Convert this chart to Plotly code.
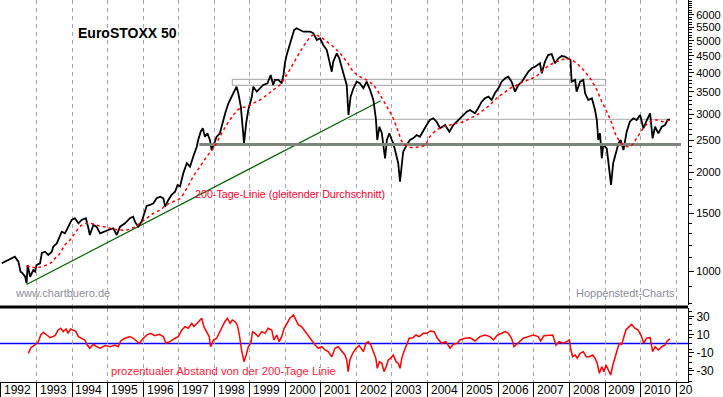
import plotly.graph_objects as go

# ---------------- data ----------------
price_t = [1992.02, 1992.20, 1992.39, 1992.49, 1992.55, 1992.61, 1992.68, 1992.72, 1992.75, 1992.82,
           1992.91, 1992.96, 1993.00, 1993.10, 1993.15, 1993.24, 1993.33, 1993.43, 1993.47, 1993.57,
           1993.64, 1993.71, 1993.80, 1993.89, 1993.99, 1994.08, 1994.18, 1994.27, 1994.39, 1994.46,
           1994.50, 1994.60, 1994.69, 1994.79, 1994.88, 1995.02, 1995.16, 1995.26, 1995.35, 1995.49,
           1995.63, 1995.72, 1995.77, 1995.86, 1995.96, 1996.05, 1996.10, 1996.19, 1996.29, 1996.38,
           1996.48, 1996.57, 1996.62, 1996.71, 1996.80, 1996.90, 1996.97, 1997.04, 1997.13, 1997.23,
           1997.32, 1997.41, 1997.51, 1997.55, 1997.62, 1997.68, 1997.74, 1997.81, 1997.88, 1997.93,
           1997.98, 1998.07, 1998.16, 1998.24, 1998.31, 1998.40, 1998.49, 1998.59, 1998.63, 1998.68,
           1998.75, 1998.80, 1998.84, 1998.90, 1998.96, 1999.06, 1999.10, 1999.20, 1999.29, 1999.38,
           1999.50, 1999.59, 1999.66, 1999.71, 1999.81, 1999.90, 1999.95, 1999.99, 2000.04, 2000.11,
           2000.18, 2000.25, 2000.32, 2000.42, 2000.51, 2000.60, 2000.70, 2000.79, 2000.89, 2000.98,
           2001.07, 2001.17, 2001.26, 2001.31, 2001.35, 2001.45, 2001.52, 2001.59, 2001.65, 2001.73,
           2001.78, 2001.84, 2001.92, 2002.01, 2002.10, 2002.20, 2002.29, 2002.39, 2002.48, 2002.55,
           2002.59, 2002.65, 2002.72, 2002.76, 2002.81, 2002.86, 2002.93, 2003.00, 2003.04, 2003.09,
           2003.14, 2003.18, 2003.23, 2003.28, 2003.32, 2003.42, 2003.51, 2003.60, 2003.70, 2003.79,
           2003.89, 2003.98, 2004.07, 2004.17, 2004.26, 2004.36, 2004.50, 2004.62, 2004.73, 2004.87,
           2004.97, 2005.11, 2005.20, 2005.34, 2005.43, 2005.53, 2005.62, 2005.72, 2005.81, 2005.90,
           2006.00, 2006.09, 2006.19, 2006.28, 2006.37, 2006.47, 2006.56, 2006.66, 2006.75, 2006.84,
           2006.94, 2007.03, 2007.17, 2007.22, 2007.31, 2007.40, 2007.50, 2007.59, 2007.69, 2007.78,
           2007.87, 2007.97, 2008.03, 2008.06, 2008.16, 2008.20, 2008.30, 2008.39, 2008.44, 2008.53,
           2008.63, 2008.72, 2008.77, 2008.81, 2008.86, 2008.91, 2008.95, 2009.05, 2009.12, 2009.17,
           2009.23, 2009.31, 2009.38, 2009.44, 2009.52, 2009.61, 2009.70, 2009.80, 2009.89, 2009.99,
           2010.08, 2010.18, 2010.27, 2010.34, 2010.41, 2010.50, 2010.60, 2010.69, 2010.76, 2010.83]
price_v = [1059, 1083, 1109, 1071, 999, 987, 964, 921, 1046, 964,
           1010, 999, 1046, 1059, 1138, 1148, 1122, 1148, 1189, 1217,
           1275, 1320, 1305, 1367, 1433, 1450, 1400, 1433, 1450, 1352,
           1290, 1383, 1367, 1305, 1320, 1336, 1352, 1290, 1367, 1400,
           1450, 1466, 1416, 1367, 1416, 1518, 1580, 1591, 1610, 1667,
           1686, 1667, 1572, 1647, 1706, 1745, 1829, 1810, 1985, 2128,
           2078, 2228, 2389, 2503, 2652, 2716, 2561, 2623, 2503, 2334,
           2417, 2561, 2623, 2844, 3016, 3234, 3386, 3548, 3631, 3467,
           3158, 2746, 2446, 2812, 3086, 3386, 3631, 3506, 3590, 3674,
           3718, 3940, 3674, 3805, 3805, 3718, 3940, 4275, 4529, 4800,
           5146, 5392, 5457, 5392, 5329, 5329, 5329, 5270, 5029, 5089,
           4857, 4690, 4275, 4031, 4323, 4583, 4426, 4128, 3940, 3674,
           2980, 3386, 3590, 3760, 3718, 3590, 3760, 3548, 3309, 2912,
           2503, 2746, 2623, 2417, 2203, 2503, 2623, 2503, 2446, 2334,
           2203, 2128, 1872, 2128, 2307, 2417, 2503, 2533, 2592, 2561,
           2684, 2779, 2878, 2912, 2844, 2716, 2779, 2652, 2779, 2878,
           2945, 3049, 3086, 3016, 3123, 3270, 3349, 3386, 3309, 3467,
           3590, 3760, 3850, 3893, 3760, 3506, 3674, 3760, 3893, 4031,
           4128, 4174, 4275, 3987, 4323, 4529, 4561, 4275, 4426, 4498,
           4476, 4426, 4374, 3760, 3805, 3506, 3760, 3805, 3467, 3309,
           3349, 3086, 2878, 2503, 2623, 2203, 2417, 2362, 1985, 1829,
           2128, 2307, 2446, 2503, 2334, 2652, 2844, 2912, 2878, 2980,
           2716, 2878, 3016, 2533, 2746, 2623, 2746, 2779, 2878, 2892]

ma_t = [1992.72, 1993.00, 1993.38, 1993.52, 1993.66, 1993.80, 1993.94, 1994.08, 1994.22, 1994.41,
        1994.60, 1994.79, 1994.98, 1995.16, 1995.35, 1995.54, 1995.72, 1995.91, 1996.10, 1996.29,
        1996.48, 1996.66, 1996.85, 1997.04, 1997.23, 1997.41, 1997.60, 1997.79, 1997.98, 1998.16,
        1998.35, 1998.54, 1998.73, 1998.92, 1999.10, 1999.29, 1999.48, 1999.66, 1999.85, 2000.04,
        2000.23, 2000.42, 2000.60, 2000.79, 2000.98, 2001.17, 2001.35, 2001.54, 2001.73, 2001.92,
        2002.10, 2002.29, 2002.48, 2002.67, 2002.86, 2003.04, 2003.18, 2003.32, 2003.51, 2003.70,
        2003.93, 2004.07, 2004.26, 2004.45, 2004.64, 2004.83, 2005.01, 2005.20, 2005.39, 2005.58,
        2005.76, 2005.95, 2006.14, 2006.33, 2006.52, 2006.70, 2006.89, 2007.08, 2007.26, 2007.45,
        2007.64, 2007.83, 2008.02, 2008.20, 2008.39, 2008.58, 2008.77, 2008.91, 2009.05, 2009.19,
        2009.33, 2009.52, 2009.70, 2009.89, 2010.08, 2010.27, 2010.46, 2010.64, 2010.83]
ma_v = [1041, 1027, 1059, 1096, 1135, 1203, 1246, 1305, 1367, 1400,
        1393, 1373, 1361, 1345, 1336, 1336, 1357, 1400, 1450, 1501,
        1536, 1591, 1628, 1667, 1787, 1938, 2078, 2228, 2362, 2561,
        2779, 2980, 3123, 3158, 3234, 3309, 3427, 3548, 3674, 3940,
        4275, 4634, 4970, 5209, 5146, 4970, 4800, 4583, 4323, 4031,
        3893, 3805, 3674, 3427, 3158, 2912, 2652, 2446, 2379, 2379,
        2417, 2561, 2684, 2746, 2779, 2812, 2844, 2912, 2980, 3086,
        3195, 3349, 3467, 3590, 3674, 3760, 3823, 3915, 4079, 4224,
        4323, 4395, 4395, 4275, 4079, 3850, 3548, 3270, 3049, 2812,
        2561, 2417, 2389, 2533, 2716, 2844, 2878, 2844, 2878]

osc_t = [1992.77, 1992.84, 1992.96, 1993.05, 1993.12, 1993.19, 1993.29, 1993.38, 1993.52, 1993.61,
         1993.68, 1993.75, 1993.83, 1993.89, 1993.96, 1994.03, 1994.11, 1994.18, 1994.27, 1994.36,
         1994.43, 1994.50, 1994.60, 1994.69, 1994.79, 1994.93, 1995.07, 1995.21, 1995.30, 1995.37,
         1995.49, 1995.63, 1995.72, 1995.82, 1995.89, 1996.01, 1996.10, 1996.21, 1996.33, 1996.46,
         1996.57, 1996.64, 1996.76, 1996.90, 1996.99, 1997.09, 1997.18, 1997.27, 1997.37, 1997.43,
         1997.52, 1997.60, 1997.65, 1997.71, 1997.79, 1997.86, 1997.90, 1997.98, 1998.07, 1998.16,
         1998.24, 1998.30, 1998.37, 1998.45, 1998.51, 1998.59, 1998.65, 1998.71, 1998.77, 1998.84,
         1998.90, 1998.96, 1999.03, 1999.08, 1999.15, 1999.24, 1999.34, 1999.43, 1999.52, 1999.62,
         1999.68, 1999.76, 1999.83, 1999.90, 1999.97, 2000.04, 2000.13, 2000.23, 2000.30, 2000.37,
         2000.46, 2000.56, 2000.65, 2000.74, 2000.84, 2000.93, 2001.03, 2001.12, 2001.21, 2001.31,
         2001.40, 2001.49, 2001.59, 2001.68, 2001.73, 2001.77, 2001.82, 2001.90, 2001.99, 2002.08,
         2002.20, 2002.27, 2002.34, 2002.41, 2002.48, 2002.55, 2002.59, 2002.65, 2002.72, 2002.78,
         2002.84, 2002.90, 2002.97, 2003.04, 2003.12, 2003.18, 2003.23, 2003.28, 2003.34, 2003.42,
         2003.49, 2003.59, 2003.68, 2003.77, 2003.89, 2003.98, 2004.09, 2004.19, 2004.28, 2004.40,
         2004.52, 2004.64, 2004.73, 2004.84, 2004.92, 2005.06, 2005.20, 2005.34, 2005.48, 2005.62,
         2005.76, 2005.86, 2005.97, 2006.09, 2006.19, 2006.28, 2006.37, 2006.44, 2006.51, 2006.61,
         2006.70, 2006.84, 2006.98, 2007.12, 2007.19, 2007.28, 2007.40, 2007.53, 2007.62, 2007.71,
         2007.83, 2007.92, 2008.00, 2008.03, 2008.09, 2008.16, 2008.22, 2008.30, 2008.39, 2008.47,
         2008.56, 2008.65, 2008.72, 2008.78, 2008.84, 2008.91, 2008.97, 2009.03, 2009.09, 2009.16,
         2009.22, 2009.28, 2009.35, 2009.40, 2009.47, 2009.52, 2009.59, 2009.68, 2009.75, 2009.84,
         2009.93, 2010.03, 2010.09, 2010.17, 2010.27, 2010.34, 2010.41, 2010.50, 2010.60, 2010.69,
         2010.75, 2010.83]
osc_v = [-11, -4.7, -1.7, 2, 9.4, 12.4, 9.4, 6.4, 8.7, 15,
         16.9, 13.1, 16.1, 11.3, 16.1, 15, 13.1, 7.6, 5.8, 3.9,
         -1.7, -5.3, -0.9, -3.6, -5.3, -2.4, -3.6, -1.7, -3.6, 2.8,
         5.8, 7.6, 5.8, 2.8, 0.2, 5.8, 9.4, 11.3, 8.7, 10.2,
         7.6, 0.2, 2, 5.8, 7.6, 15, 18.7, 16.9, 22.4, 18.7,
         22.4, 26.1, 28, 18.7, 13.1, 7.6, -3.6, 3.9, 5.8, 13.1,
         18.7, 24.2, 28, 22.4, 26.1, 24.2, 20.6, 9.4, -7.2, -20.2,
         -12.8, -3.6, 0.2, 13.1, 11.3, 7.6, 13.1, 11.3, 16.9, 15,
         3.9, 9.4, 2, 7.6, 16.9, 22.4, 28, 31.7, 26.1, 20.6,
         18.7, 13.1, 7.6, 3.9, -1.7, -5.3, -3.6, -7.2, -9.1, -14.7,
         -5.3, -3.6, -9.1, -12.8, -18.3, -31.3, -18.3, -10.9, -5.3, -2.4,
         -9.1, 0.2, 2, -1.7, -9.1, -16.4, -27.6, -20.2, -22, -31.3,
         -25.8, -18.3, -16.4, -12.8, -20.2, -22, -27.6, -16.4, -9.1, -1.7,
         5.8, 6.4, 9.4, 7.6, 11.3, 11.3, 13.9, 13.1, 5.8, 0.2,
         2, -5.3, -0.9, 0.2, 3.9, 5.8, 6.4, 2.8, 7.6, 9.4,
         7.6, 3.9, 9.4, 11.3, 13.1, 11.3, 5.8, -3.6, -0.9, 2,
         5.8, 7.6, 9.4, 7.6, 2.8, 8.7, 9.4, 9.4, -1.7, 2,
         0.2, 2, 3.9, -5.3, -14.7, -12.8, -16.4, -10.9, -9.1, -14.7,
         -14.7, -12.8, -16.4, -22, -33.1, -25.8, -31.3, -23.9, -29.4, -35,
         -23.9, -16.4, -5.3, 0.2, -0.9, 5.8, 15, 18.7, 21.3, 16.9,
         15, 7.6, 0.2, 5.8, 6.4, -9.1, -3.6, -7.2, -3.6, -1.7,
         2.8, 5]

trend_t = [1992.72, 2002.69]
trend_v = [913, 3293]
support_t = [1997.58, 2011.14]
support_v = [2426, 2426]
resist_t = [2001.77, 2010.83]
resist_v = [2892, 2892]
box_t = [1998.51, 2009.02]
box_v = [3666, 3823]

years = list(range(1992, 2012))
year_labels = [str(y) for y in range(1992, 2011)] + ["20"]
price_ticks = [1000, 1500, 2000, 2500, 3000, 3500, 4000, 4500, 5000, 5500, 6000]
price_minor = list(range(800, 1000, 100)) + list(range(1100, 6700, 100))
osc_ticks = [-30, -10, 10, 30]
osc_minor = [-42, -35, -28, -21, -14, -7, 0, 7, 14, 21, 28, 35]

FONT = "Liberation Sans, Arial, sans-serif"
GRID = "#a8a8a8"

fig = go.Figure()

# box (resistance zone)
fig.add_trace(go.Scatter(
    x=[box_t[0], box_t[1], box_t[1], box_t[0], box_t[0]],
    y=[box_v[0], box_v[0], box_v[1], box_v[1], box_v[0]],
    mode="lines", line=dict(color="#a0a0a0", width=1), xaxis="x", yaxis="y"))
fig.add_trace(go.Scatter(x=resist_t, y=resist_v, mode="lines",
                         line=dict(color="#a8a8a8", width=1), xaxis="x", yaxis="y"))
fig.add_trace(go.Scatter(x=trend_t, y=trend_v, mode="lines",
                         line=dict(color="#006400", width=1.2), xaxis="x", yaxis="y"))
fig.add_trace(go.Scatter(x=price_t, y=price_v, mode="lines",
                         line=dict(color="black", width=1.8), xaxis="x", yaxis="y"))
fig.add_trace(go.Scatter(x=support_t, y=support_v, mode="lines",
                         line=dict(color="#7b857b", width=3), xaxis="x", yaxis="y"))
fig.add_trace(go.Scatter(x=ma_t, y=ma_v, mode="lines", line_shape="spline",
                         line=dict(color="#ff0000", width=1.5, dash="3px,3px"),
                         xaxis="x", yaxis="y"))
fig.add_trace(go.Scatter(x=osc_t, y=osc_v, mode="lines",
                         line=dict(color="#ff0000", width=1.5), xaxis="x2", yaxis="y2"))

xr = [1991.972, 2011.336]

fig.update_layout(
    width=723, height=397,
    margin=dict(l=0, r=35, t=0, b=15),
    paper_bgcolor="white", plot_bgcolor="white",
    showlegend=False,
    font=dict(family=FONT, size=12, color="black"),
    xaxis=dict(domain=[0, 1], range=xr, anchor="y", tickmode="array", tickvals=years,
               showticklabels=False, ticks="", showgrid=True, gridcolor=GRID,
               griddash="4px,4px", gridwidth=1, zeroline=False, showline=False),
    xaxis2=dict(domain=[0, 1], range=xr, anchor="y2", matches="x", tickmode="array",
                tickvals=years, showticklabels=False, ticks="outside", ticklen=15,
                tickcolor="black", tickwidth=1, showgrid=True, gridcolor=GRID,
                griddash="4px,4px", gridwidth=1, zeroline=False, showline=True,
                linecolor="black", linewidth=1),
    yaxis=dict(domain=[0.2016, 1], type="log", range=[2.8985, 3.8227], side="right",
               anchor="x", tickmode="array", tickvals=price_ticks,
               ticktext=[str(v) for v in price_ticks], ticks="outside", ticklen=5,
               tickcolor="black", showgrid=False, zeroline=False, showline=True,
               linecolor="black", linewidth=1, tickfont=dict(size=11),
               minor=dict(tickvals=price_minor, ticks="outside", ticklen=3,
                          tickcolor="black", showgrid=False)),
    yaxis2=dict(domain=[0, 0.1937], range=[-42.8, 39.4], side="right", anchor="x2",
                tickmode="array", tickvals=osc_ticks, ticktext=[str(v) for v in osc_ticks],
                ticks="outside", ticklen=5, tickcolor="black", showgrid=False,
                zeroline=False, showline=True, linecolor="black", linewidth=1,
                tickfont=dict(size=12),
                minor=dict(tickvals=osc_minor, ticks="outside", ticklen=3,
                           tickcolor="black", showgrid=False)),
)

# zero line of the oscillator and the panel separator
fig.add_shape(type="line", xref="paper", yref="y2", x0=0, x1=1, y0=0, y1=0,
              line=dict(color="#0000ff", width=1.5), layer="between")
fig.add_shape(type="line", xref="paper", yref="paper", x0=0, x1=1,
              y0=0.1963, y1=0.1963, line=dict(color="black", width=3))

ann = []
for yv, lab in zip(years, year_labels):
    ann.append(dict(x=yv + 0.04, y=-0.021, xref="x2", yref="paper", text=lab,
                    showarrow=False, xanchor="left", yanchor="middle",
                    font=dict(size=12, color="black", family=FONT)))
ann += [
    dict(x=0.186, y=0.9136, xref="paper", yref="paper", text="<b>EuroSTOXX 50</b>",
         showarrow=False, xanchor="center", yanchor="middle",
         font=dict(size=14, color="black", family=FONT)),
    dict(x=193 / 688, y=(382 - 194) / 382, xref="paper", yref="paper",
         text="200-Tage-Linie (gleitender Durchschnitt)", showarrow=False,
         xanchor="left", yanchor="middle", font=dict(size=10.7, color="#ff0033", family=FONT)),
    dict(x=13 / 688, y=(382 - 293) / 382, xref="paper", yref="paper",
         text="www.chartbuero.de", showarrow=False, xanchor="left", yanchor="middle",
         font=dict(size=11, color="#8c8c9c", family=FONT)),
    dict(x=677 / 688, y=(382 - 293) / 382, xref="paper", yref="paper",
         text="Hoppenstedt-Charts", showarrow=False, xanchor="right", yanchor="middle",
         font=dict(size=11, color="#8c8c9c", family=FONT)),
    dict(x=109 / 688, y=(382 - 371) / 382, xref="paper", yref="paper",
         text="prozentualer Abstand von der 200-Tage Linie", showarrow=False,
         xanchor="left", yanchor="middle", font=dict(size=11.3, color="#ff1a3c", family=FONT)),
]
fig.update_layout(annotations=ann)

fig.write_html("out.html",
               config={"displayModeBar": False},
               post_script="document.body.style.margin='0px';"
                           "document.body.style.overflow='hidden';")
